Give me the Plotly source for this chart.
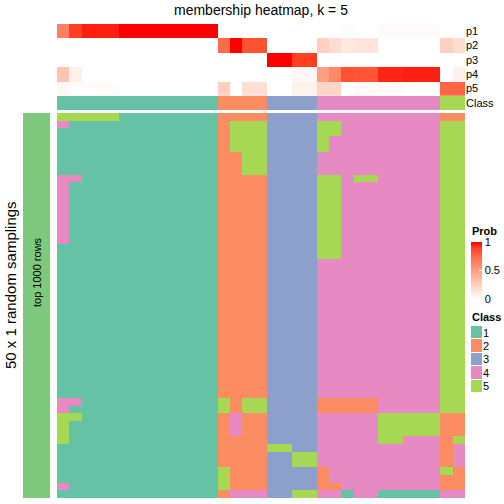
import plotly.graph_objects as go

# ---------------- data ----------------
class_colors = ["#66C2A5", "#FC8D62", "#8DA0CB", "#E78AC3", "#A6D854"]
class_labels = ["1", "2", "3", "4", "5"]
prob_rows = ["p1", "p2", "p3", "p4", "p5"]

p1 = [0.64, 0.9, 0.95, 0.95, 0.95, 1, 1, 1, 1, 1, 1, 1, 1,
      0, 0, 0, 0, 0, 0, 0, 0,
      0, 0, 0.02, 0, 0, 0.02, 0.02, 0.02, 0.02, 0.02, 0, 0]
p2 = [0] * 13 + [0.74, 1.0, 0.83, 0.83] + [0] * 4 + \
     [0.25, 0.18, 0.12, 0.14, 0.14, 0, 0, 0, 0, 0] + [0.25, 0.18]
p3 = [0] * 17 + [1, 1, 0.9, 0.9] + [0] * 12
p4 = [0.3, 0.08] + [0] * 15 + [0, 0, 0.04, 0.04] + \
     [0.5, 0.6, 0.83, 0.82, 0.82, 0.94, 0.94, 0.95, 0.95, 0.95] + [0, 0.07]
p5 = [0.04, 0.02, 0.02, 0.02, 0.02] + [0] * 8 + [0.25, 0, 0.17, 0.17] + \
     [0, 0, 0.07, 0.07] + [0.22, 0.22, 0, 0.03, 0.03, 0.03, 0.03, 0, 0, 0] + [0.76, 0.76]
consensus_class = [1] * 13 + [2] * 4 + [3] * 4 + [4] * 10 + [5] * 2

D = "1111111111111" + "2222" + "3333" + "4444444444" + "55"
membership_rows = (
    ["55555" + "11111111" + "2222" + "3333" + "4444444444" + "22"] +
    ["4" + "111111111111" + "2555" + "3333" + "5544444444" + "55"] +
    ["1111111111111" + "2555" + "3333" + "5544444444" + "55"] +
    ["1111111111111" + "2555" + "3333" + "5444444444" + "55"] * 2 +
    ["1111111111111" + "2255" + "3333" + "4444444444" + "55"] * 3 +
    ["44" + "11111111111" + "2222" + "3333" + "5545544444" + "55"] +
    ["4" + "111111111111" + "2222" + "3333" + "5544444444" + "55"] * 8 +
    ["1111111111111" + "2222" + "3333" + "5544444444" + "55"] * 2 +
    [D] * 18 +
    ["44" + "11111111111" + "5255" + "3333" + "2222244444" + "55"] +
    ["4" + "111111111111" + "5255" + "3333" + "2222244444" + "55"] +
    ["55" + "11111111111" + "2422" + "3333" + "4444455555" + "22"] +
    ["5" + "111111111111" + "2422" + "3333" + "4444455555" + "22"] * 2 +
    ["5" + "111111111111" + "2222" + "3333" + "4444455444" + "25"] +
    ["1111111111111" + "2222" + "5533" + "4444444444" + "24"] +
    ["1111111111111" + "2222" + "3355" + "4444444444" + "24"] * 2 +
    ["1111111111111" + "5222" + "3333" + "2444444444" + "52"] +
    ["1111111111111" + "5222" + "3333" + "2444444444" + "22"] +
    ["4" + "111111111111" + "5222" + "3333" + "2244444444" + "22"] +
    ["1111111111111" + "2444" + "3355" + "4414411111" + "44"]
)
membership = [[int(c) for c in r] for r in membership_rows]

# ---------------- helpers ----------------
W = H = 504
FONT = "Liberation Sans, Arial, Helvetica, sans-serif"


def px_x(p):
    return p / W


def px_y(p):
    return 1 - p / H


def discrete_scale(colors):
    n = len(colors)
    cs = []
    for i, c in enumerate(colors):
        cs.append([i / n, c])
        cs.append([(i + 1) / n, c])
    return cs


prob_scale = [
    [0.0, "rgb(255,255,255)"],
    [0.1, "rgb(255,236,229)"],
    [0.25, "rgb(255,207,191)"],
    [0.5, "rgb(255,158,129)"],
    [0.75, "rgb(255,104,70)"],
    [0.9, "rgb(255,62,34)"],
    [1.0, "rgb(255,0,0)"],
]

ncol = len(consensus_class)
nrow = len(membership)
cols = list(range(ncol))

fig = go.Figure()

# main membership heatmap
fig.add_trace(go.Heatmap(
    z=membership, x=cols, y=list(range(nrow)),
    colorscale=discrete_scale(class_colors), zmin=0.5, zmax=5.5,
    showscale=False, xaxis="x", yaxis="y", hoverinfo="skip"))

# probability annotation (its colour bar is the "Prob" legend)
fig.add_trace(go.Heatmap(
    z=[p1, p2, p3, p4, p5], x=cols, y=list(range(5)),
    colorscale=prob_scale, zmin=0, zmax=1,
    xaxis="x", yaxis="y2", hoverinfo="skip",
    colorbar=dict(
        x=px_x(471), xanchor="left", y=px_y(299), yanchor="bottom",
        len=57, lenmode="pixels", thickness=11, thicknessmode="pixels",
        outlinewidth=0, xpad=0, ypad=0,
        tickvals=[0, 0.5, 1], ticktext=["0", "0.5", "1"],
        ticks="inside", ticklen=3, tickcolor="white",
        tickfont=dict(size=11, family=FONT, color="black"),
    )))

# class annotation row
fig.add_trace(go.Heatmap(
    z=[consensus_class], x=cols, y=[0],
    colorscale=discrete_scale(class_colors), zmin=0.5, zmax=5.5,
    showscale=False, xaxis="x", yaxis="y3", hoverinfo="skip"))

# left row annotation
fig.add_trace(go.Heatmap(
    z=[[1] for _ in range(nrow)], x=[0], y=list(range(nrow)),
    colorscale=[[0, "#7FC97F"], [1, "#7FC97F"]], zmin=0, zmax=2,
    showscale=False, xaxis="x2", yaxis="y", hoverinfo="skip"))

# class legend swatches
fig.add_trace(go.Heatmap(
    z=[[1], [2], [3], [4], [5]], x=[0], y=list(range(5)),
    colorscale=discrete_scale(class_colors), zmin=0.5, zmax=5.5,
    ygap=1, showscale=False, xaxis="x3", yaxis="y4", hoverinfo="skip"))

hidden = dict(showgrid=False, zeroline=False, showticklabels=False,
              ticks="", showline=False)

fig.update_layout(
    width=W, height=H, margin=dict(l=0, r=0, t=0, b=0),
    plot_bgcolor="white", paper_bgcolor="white",
    font=dict(family=FONT, size=11, color="black"),
    xaxis=dict(domain=[px_x(57), px_x(465)], range=[-0.5, ncol - 0.5], **hidden),
    yaxis=dict(domain=[px_y(498), px_y(113)], range=[nrow - 0.5, -0.5], **hidden),
    yaxis2=dict(domain=[px_y(95.7), px_y(24)], range=[4.5, -0.5], anchor="x",
                side="right", showgrid=False, zeroline=False, ticks="",
                tickvals=list(range(5)), ticktext=prob_rows,
                tickfont=dict(size=11, family=FONT)),
    yaxis3=dict(domain=[px_y(110), px_y(96)], range=[0.5, -0.5], anchor="x",
                side="right", showgrid=False, zeroline=False, ticks="",
                tickvals=[0], ticktext=["Class"],
                tickfont=dict(size=11, family=FONT)),
    xaxis2=dict(domain=[px_x(23), px_x(50)], range=[-0.5, 0.5], anchor="y", **hidden),
    xaxis3=dict(domain=[px_x(471), px_x(482)], range=[-0.5, 0.5], anchor="y4", **hidden),
    yaxis4=dict(domain=[px_y(393), px_y(326)], range=[4.5, -0.5], anchor="x3",
                side="right", showgrid=False, zeroline=False, ticks="",
                tickvals=list(range(5)), ticktext=class_labels,
                tickfont=dict(size=11, family=FONT)),
    annotations=[
        dict(text="membership heatmap, k = 5", x=px_x(261), y=px_y(10),
             xref="paper", yref="paper", showarrow=False,
             font=dict(size=14, family=FONT), xanchor="center", yanchor="middle"),
        dict(text="50 x 1 random samplings", x=px_x(10), y=px_y(285),
             xref="paper", yref="paper", showarrow=False, textangle=-90,
             font=dict(size=15, family=FONT), xanchor="center", yanchor="middle"),
        dict(text="top 1000 rows", x=px_x(37), y=px_y(272),
             xref="paper", yref="paper", showarrow=False, textangle=-90,
             font=dict(size=11, family=FONT), xanchor="center", yanchor="middle"),
        dict(text="<b>Prob</b>", x=px_x(470), y=px_y(231),
             xref="paper", yref="paper", showarrow=False,
             font=dict(size=11, family=FONT), xanchor="left", yanchor="middle"),
        dict(text="<b>Class</b>", x=px_x(470), y=px_y(317),
             xref="paper", yref="paper", showarrow=False,
             font=dict(size=11, family=FONT), xanchor="left", yanchor="middle"),
    ],
)

fig.write_html(
    "out.html",
    config={"displayModeBar": False},
    post_script="document.body.style.margin='0';document.body.style.padding='0';",
)
